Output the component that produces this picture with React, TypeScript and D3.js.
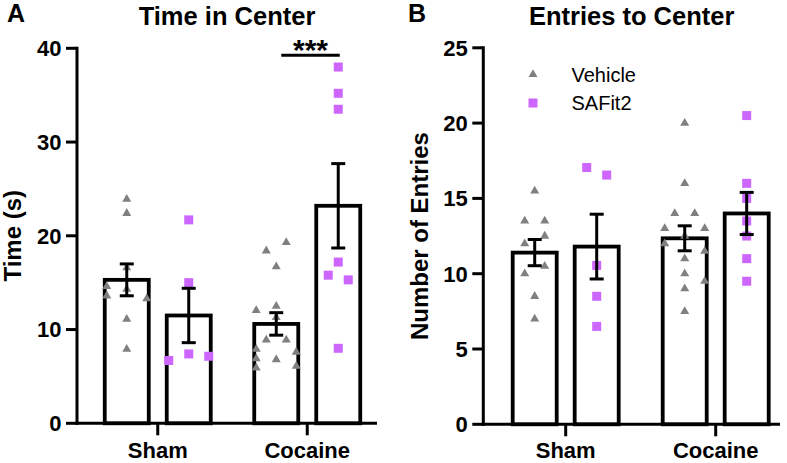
import React from "react";
import * as d3 from "d3";

// ---------- data ----------
const categories = ["Sham", "Cocaine"];
const seriesNames = ["Vehicle", "SAFit2"];

const timeTicks = [0, 10, 20, 30, 40];
const entriesTicks = [0, 5, 10, 15, 20, 25];

// Panel A: Time in Center (s)
const timeMeanVehicle = [15.3, 10.6];
const timeSemVehicle = [1.7, 1.2];
const timeMeanSAFit2 = [11.5, 23.2];
const timeSemSAFit2 = [2.9, 4.5];

const timeShamVehicle = [23.9, 22.4, 16.6, 14.6, 14.3, 13.6, 13.3, 11.1, 7.9];
const timeShamVehicleLane = [0, 0, 0, -2, 0, -2, 2, 0, 0];
const timeShamSAFit2 = [21.7, 15.0, 7.4, 6.7, 7.15];
const timeShamSAFit2Lane = [0, 0, 0, -2, 2];
const timeCocaineVehicle = [18.4, 19.3, 16.7, 12.05, 12.5, 11.3, 8.9, 8.9, 7.9, 6.9, 5.9, 6.8, 7.6, 6.1];
const timeCocaineVehicleLane = [-1, 1, 0, -2, 0, 0, -1, 1, -2, -2, -2, 0, 2, 2];
const timeCocaineSAFit2 = [38.0, 35.2, 33.5, 17.2, 15.8, 15.3, 8.0];
const timeCocaineSAFit2Lane = [0, 0, 0, 0, -1, 1, 0];

// Panel B: Entries to Center
const entriesMeanVehicle = [11.4, 12.35];
const entriesSemVehicle = [0.87, 0.83];
const entriesMeanSAFit2 = [11.8, 14.0];
const entriesSemSAFit2 = [2.15, 1.4];

const entriesShamVehicle = [15.5, 13.5, 13.5, 12.5, 12.0, 10.0, 10.5, 8.5, 7.0];
const entriesShamVehicleLane = [0, -1, 1, 1, -1, -1, 1, 0, 0];
const entriesShamSAFit2 = [17.05, 16.55, 10.55, 8.5, 6.5];
const entriesShamSAFit2Lane = [-1, 1, 0, 0, 0];
const entriesCocaineVehicle = [20.0, 16.0, 14.0, 14.0, 13.0, 13.0, 12.5, 12.0, 11.5, 11.0, 10.0, 9.5, 9.0, 7.5];
const entriesCocaineVehicleLane = [0, 0, -1, 1, -2, 2, 0, -2, 2, 0, 0, 2, 0, 0];
const entriesCocaineSAFit2 = [20.5, 16.0, 15.0, 13.5, 12.5, 11.0, 9.5];
const entriesCocaineSAFit2Lane = [0, 0, 0, 0, 0, 0, 0];

// ---------- styles ----------
const FONT = "'Liberation Sans', Arial, Helvetica, sans-serif";
const GRAY = "#808080";
const PURPLE = "#CC66FF";
const LANE = 10;

type Group = {
  cat: string;
  ser: string;
  mean: number;
  sem: number;
  pts: number[];
  lanes: number[];
};

function buildGroups(
  meanV: number[], semV: number[], meanS: number[], semS: number[],
  pts: number[][][], lanes: number[][][]
): Group[] {
  const out: Group[] = [];
  categories.forEach((c, ci) => {
    seriesNames.forEach((s, si) => {
      out.push({
        cat: c,
        ser: s,
        mean: si === 0 ? meanV[ci] : meanS[ci],
        sem: si === 0 ? semV[ci] : semS[ci],
        pts: pts[ci][si],
        lanes: lanes[ci][si],
      });
    });
  });
  return out;
}

const timeGroups = buildGroups(
  timeMeanVehicle, timeSemVehicle, timeMeanSAFit2, timeSemSAFit2,
  [[timeShamVehicle, timeShamSAFit2], [timeCocaineVehicle, timeCocaineSAFit2]],
  [[timeShamVehicleLane, timeShamSAFit2Lane], [timeCocaineVehicleLane, timeCocaineSAFit2Lane]]
);
const entriesGroups = buildGroups(
  entriesMeanVehicle, entriesSemVehicle, entriesMeanSAFit2, entriesSemSAFit2,
  [[entriesShamVehicle, entriesShamSAFit2], [entriesCocaineVehicle, entriesCocaineSAFit2]],
  [[entriesShamVehicleLane, entriesShamSAFit2Lane], [entriesCocaineVehicleLane, entriesCocaineSAFit2Lane]]
);

const triPath = (() => {
  const s = 9;
  const h = s * Math.sqrt(3) / 2;
  return `M0,${(-2 * h) / 3}L${s / 2},${h / 3}L${-s / 2},${h / 3}Z`;
})();

function Marker({ ser, x, y }: { ser: string; x: number; y: number }) {
  if (ser === "Vehicle") {
    return <path d={triPath} transform={`translate(${x},${y})`} fill={GRAY} />;
  }
  const s = 9;
  return <rect x={x - s / 2} y={y - s / 2} width={s} height={s} fill={PURPLE} />;
}

type PanelProps = {
  letter: string;
  letterX: number;
  title: string;
  ylabel: string;
  ylabelX: number;
  axisX: number;
  axisEnd: number;
  yBottom: number;
  yTop: number;
  yMax: number;
  ticks: number[];
  catRange: [number, number];
  groups: Group[];
  children?: (x: d3.ScaleBand<string>, inner: d3.ScaleBand<string>, y: d3.ScaleLinear<number, number>) => React.ReactNode;
};

function Panel(p: PanelProps) {
  const y = d3.scaleLinear().domain([0, p.yMax]).range([p.yBottom, p.yTop]);
  const x = d3.scaleBand<string>().domain(categories).range(p.catRange).padding(0);
  const inner = d3.scaleBand<string>().domain(seriesNames).range([-53, 53]).paddingInner(0.29).paddingOuter(0);
  const bw = inner.bandwidth();
  const cx = (g: Group) => (x(g.cat) as number) + x.bandwidth() / 2 + (inner(g.ser) as number) + bw / 2;
  const midX = (p.axisX + p.axisEnd) / 2;
  const midY = (p.yBottom + p.yTop) / 2;

  return (
    <g>
      <text x={p.letterX} y={22} fontFamily={FONT} fontWeight="bold" fontSize={25}>{p.letter}</text>
      <text x={midX} y={25} textAnchor="middle" fontFamily={FONT} fontWeight="bold" fontSize={25.5}>{p.title}</text>
      <text
        transform={`translate(${p.ylabelX},${midY}) rotate(-90)`}
        textAnchor="middle"
        fontFamily={FONT}
        fontWeight="bold"
        fontSize={24}
      >
        {p.ylabel}
      </text>

      {/* bars */}
      {p.groups.map((g, i) => (
        <rect
          key={"bar" + i}
          x={cx(g) - bw / 2}
          y={y(g.mean)}
          width={bw}
          height={y(0) - y(g.mean)}
          fill="#fff"
          stroke="#000"
          strokeWidth={3.8}
        />
      ))}

      {/* points */}
      {p.groups.map((g, i) => (
        <g key={"pts" + i}>
          {g.pts.map((v, j) => (
            <Marker key={j} ser={g.ser} x={cx(g) + g.lanes[j] * LANE} y={y(v)} />
          ))}
        </g>
      ))}

      {/* error bars */}
      {p.groups.map((g, i) => {
        const c = cx(g);
        const hi = y(g.mean + g.sem);
        const lo = y(g.mean - g.sem);
        return (
          <g key={"err" + i} stroke="#000" strokeWidth={3}>
            <line x1={c} x2={c} y1={hi} y2={lo} />
            <line x1={c - 7} x2={c + 7} y1={hi} y2={hi} />
            <line x1={c - 7} x2={c + 7} y1={lo} y2={lo} />
          </g>
        );
      })}

      {/* y axis */}
      <line x1={p.axisX} x2={p.axisX} y1={y(p.yMax) - 1.5} y2={y(0) + 1.5} stroke="#000" strokeWidth={3} />
      {p.ticks.map((t) => (
        <g key={"yt" + t}>
          <line x1={p.axisX - 11} x2={p.axisX} y1={y(t)} y2={y(t)} stroke="#000" strokeWidth={3} />
          <text
            x={p.axisX - 15.5}
            y={y(t)}
            dy="0.36em"
            textAnchor="end"
            fontFamily={FONT}
            fontWeight="bold"
            fontSize={22}
          >
            {t}
          </text>
        </g>
      ))}

      {/* x axis */}
      <line x1={p.axisX - 1.5} x2={p.axisEnd} y1={y(0)} y2={y(0)} stroke="#000" strokeWidth={3} />
      {categories.map((c) => {
        const px = (x(c) as number) + x.bandwidth() / 2;
        return (
          <g key={"xt" + c}>
            <line x1={px} x2={px} y1={y(0)} y2={y(0) + 12} stroke="#000" strokeWidth={3} />
            <text x={px} y={457.5} textAnchor="middle" fontFamily={FONT} fontWeight="bold" fontSize={22}>
              {c}
            </text>
          </g>
        );
      })}

      {p.children ? p.children(x, inner, y) : null}
    </g>
  );
}

export default function App() {
  return (
    <svg
      width={787}
      height={463}
      viewBox="0 0 787 463"
      style={{ position: "absolute", left: 0, top: 0, background: "#fff" }}
    >
      <rect width={787} height={463} fill="#fff" />
      <Panel
        letter="A"
        letterX={7}
        title="Time in Center"
        ylabel="Time (s)"
        ylabelX={20.5}
        axisX={77}
        axisEnd={377}
        yBottom={423.3}
        yTop={48.3}
        yMax={40}
        ticks={timeTicks}
        catRange={[83, 382]}
        groups={timeGroups}
      >
        {(x, inner, y) => {
          const c = (x("Cocaine") as number) + x.bandwidth() / 2;
          const bw = inner.bandwidth();
          const x1 = c + (inner("Vehicle") as number) + bw / 2 + 5;
          const x2 = c + (inner("SAFit2") as number) + bw / 2 + 1.5;
          const ly = y(39.25);
          return (
            <g>
              <line x1={x1} x2={x2} y1={ly} y2={ly} stroke="#000" strokeWidth={3} />
              <text x={(x1 + x2) / 2} y={ly + 4.5} textAnchor="middle" fontFamily={FONT} fontWeight="bold" fontSize={30}>
                ***
              </text>
            </g>
          );
        }}
      </Panel>
      <Panel
        letter="B"
        letterX={408}
        title="Entries to Center"
        ylabel="Number of Entries"
        ylabelX={428}
        axisX={483.3}
        axisEnd={780}
        yBottom={424.3}
        yTop={47.8}
        yMax={25}
        ticks={entriesTicks}
        catRange={[490.7, 790.7]}
        groups={entriesGroups}
      >
        {() => (
          <g>
            <Marker ser="Vehicle" x={533} y={74.5} />
            <text x={571.5} y={81.7} fontFamily={FONT} fontSize={20}>Vehicle</text>
            <Marker ser="SAFit2" x={533} y={103} />
            <text x={571.5} y={110} fontFamily={FONT} fontSize={20}>SAFit2</text>
          </g>
        )}
      </Panel>
    </svg>
  );
}
